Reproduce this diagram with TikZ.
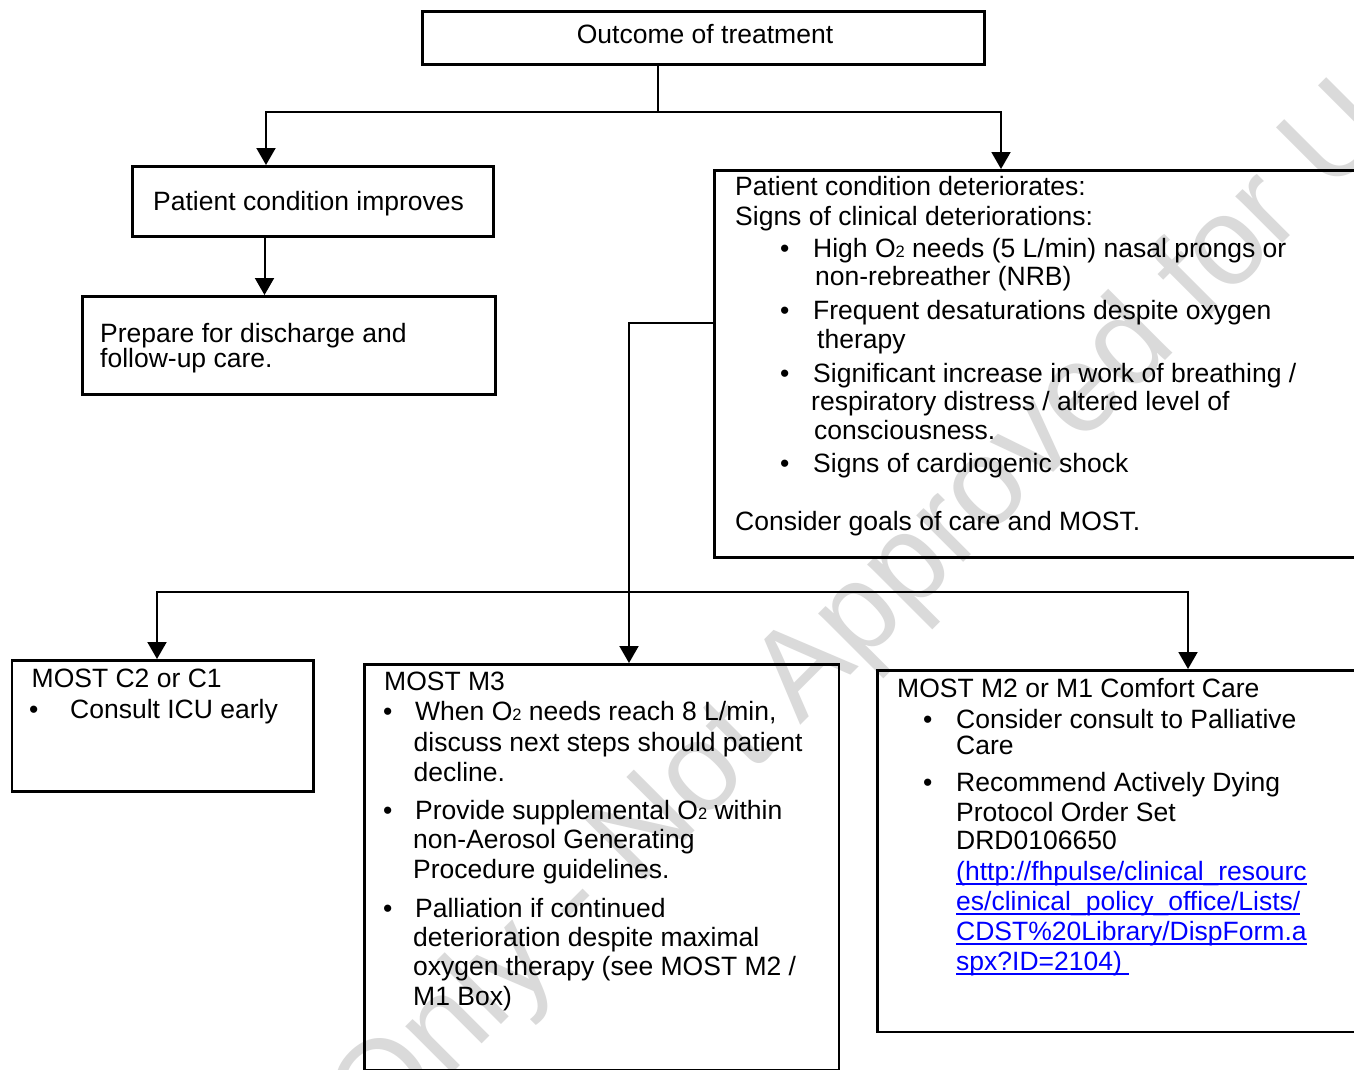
\documentclass[tikz,border=0pt]{standalone}
\usepackage{fontspec}
\setmainfont{Liberation Sans}
\usetikzlibrary{arrows.meta}
\definecolor{wmgray}{RGB}{218,218,218}
\definecolor{linkblue}{RGB}{0,0,255}
\newcommand\Otwo{O{\fontsize{16.5}{16.5}\selectfont 2}}
\newcommand\ulink[1]{\setbox0\hbox{\color{linkblue}#1}\rlap{\color{linkblue}\rule[-4.5pt]{\wd0}{1.8pt}}\box0}
\newcommand\T[4]{\node[txt] (#1) at (#2,#3) {#4};}
\newcommand\B[3]{\node[txt] (#1) at (#2,#3) {•};}
\begin{document}
\begin{tikzpicture}[x=1pt,y=-1pt,
  box/.style={draw, line width=2.7pt, rectangle, inner sep=0pt, anchor=north west},
  txt/.style={anchor=base west, inner sep=0pt, font=\fontsize{26.5}{30}\selectfont},
  conn/.style={line width=2pt},
  arr/.style={line width=2pt, -{Triangle[width=19pt,length=17pt]}},
  wm/.style={anchor=base, rotate=45, inner sep=0pt, text=wmgray, font=\fontsize{125}{125}\selectfont}]
\useasboundingbox (0,0) rectangle (1354,1070);
\fill[white] (0,0) rectangle (1354,1070);
% watermark
\node[wm] (wm) at (933,593) {Only - Not Approved for Use};
% boxes
\node[box, minimum width=562pt, minimum height=53pt] (bOut) at (421,10) {};
\node[txt, anchor=base] (tOut) at (705,44) {Outcome of treatment};
\node[box, minimum width=361pt, minimum height=70pt] (bImp) at (131,165) {};
\node[box, minimum width=413pt, minimum height=98pt] (bPrep) at (81,295) {};
\node[box, minimum width=700pt, minimum height=387pt] (bDet) at (713,169) {};
\node[box, minimum width=301.5pt, minimum height=131pt] (bC) at (10.5,659) {};
\node[box, minimum width=474.5pt, minimum height=406pt] (bM3) at (363,663) {};
\node[box, minimum width=600pt, minimum height=361.5pt] (bM2) at (876,669) {};
% connectors
\coordinate (jt) at (658,112);
\coordinate (xa) at (266,0);
\coordinate (xb) at (1001,0);
\coordinate (xc) at (264.5,0);
\coordinate (yd) at (0,323);
\coordinate (xm) at (629,0);
\coordinate (jm) at (629,592);
\coordinate (xe) at (157,0);
\coordinate (xf) at (1188,0);
\draw[conn] (bOut.south -| jt) -- (jt);
\draw[arr] (jt) -| (bImp.north -| xa);
\draw[arr] (jt) -| (bDet.north -| xb);
\draw[arr] (bImp.south -| xc) -- (bPrep.north -| xc);
\draw[arr] (bDet.west |- yd) -| (bM3.north -| xm);
\draw[arr] (jm) -| (bC.north -| xe);
\draw[arr] (jm) -| (bM2.north -| xf);
% texts
\T{i1}{153}{210}{Patient condition improves}
\T{p1}{100}{342}{Prepare for discharge and}
\T{p2}{100}{367}{follow-up care.}
\T{d1}{735}{195}{Patient condition deteriorates:}
\T{d2}{735}{225}{Signs of clinical deteriorations:}
\B{db1}{780}{257}
\T{d3}{813}{257}{High \Otwo{} needs (5 L/min) nasal prongs or}
\T{d4}{815}{285}{non-rebreather (NRB)}
\B{db2}{780}{319}
\T{d5}{813}{319}{Frequent desaturations despite oxygen}
\T{d6}{817}{348}{therapy}
\B{db3}{780}{382}
\T{d7}{813}{382}{Significant increase in work of breathing /}
\T{d8}{811}{410}{respiratory distress / altered level of}
\T{d9}{814}{439}{consciousness.}
\B{db4}{780}{472}
\T{d10}{813}{472}{Signs of cardiogenic shock}
\T{d11}{735}{530}{Consider goals of care and MOST.}
\T{k1}{31.5}{687}{MOST C2 or C1}
\B{kb1}{29}{718}
\T{k2}{70}{718}{Consult ICU early}
\T{m1}{384}{690}{MOST M3}
\B{mb1}{383}{720}
\T{m2}{415}{720}{When \Otwo{} needs reach 8 L/min,}
\T{m3}{413.5}{751}{discuss next steps should patient}
\T{m4}{413.5}{781}{decline.}
\B{mb2}{383}{819}
\T{m5}{415}{819}{Provide supplemental \Otwo{} within}
\T{m6}{413}{848}{non-Aerosol Generating}
\T{m7}{413}{878}{Procedure guidelines.}
\B{mb3}{383}{917}
\T{m8}{415}{917}{Palliation if continued}
\T{m9}{413}{946}{deterioration despite maximal}
\T{m10}{413}{975}{oxygen therapy (see MOST M2 /}
\T{m11}{413}{1005}{M1 Box)}
\T{c1}{897}{697}{MOST M2 or M1 Comfort Care}
\B{cb1}{923}{728}
\T{c2}{956}{728}{Consider consult to Palliative}
\T{c3}{956}{754}{Care}
\B{cb2}{923}{791}
\T{c4}{956}{791}{Recommend Actively Dying}
\T{c5}{956}{821}{Protocol Order Set}
\T{c6}{956}{849}{DRD0106650}
\T{c7}{956}{880}{\ulink{(http://fhpulse/clinical\_resourc}}
\T{c8}{956}{910}{\ulink{es/clinical\_policy\_office/Lists/}}
\T{c9}{956}{940}{\ulink{CDST\%20Library/DispForm.a}}
\T{c10}{956}{970}{\ulink{spx?ID=2104)\ }}
\end{tikzpicture}
\end{document}
